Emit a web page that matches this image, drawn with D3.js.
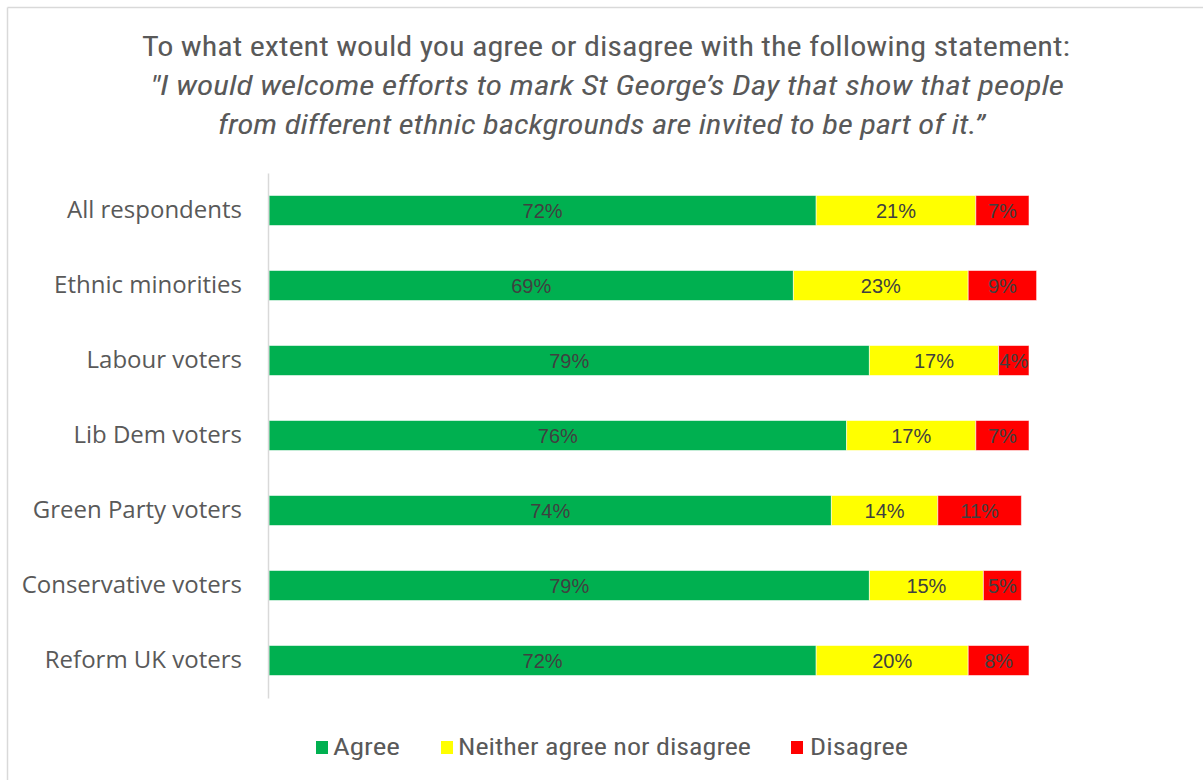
<!DOCTYPE html>
<html>
<head>
<meta charset="utf-8">
<script src="https://cdn.jsdelivr.net/npm/d3@7"></script>
<style>
  html, body { margin: 0; padding: 0; background: #fff; }
  svg { display: block; }
</style>
</head>
<body>
<svg id="chart" width="1203" height="780"></svg>
<script>
// Survey groups, top to bottom
const categories = [
  "All respondents",
  "Ethnic minorities",
  "Labour voters",
  "Lib Dem voters",
  "Green Party voters",
  "Conservative voters",
  "Reform UK voters"
];
// Response shares (%)
const agree    = [72, 69, 79, 76, 74, 79, 72];
const neither  = [21, 23, 17, 17, 14, 15, 20];
const disagree = [7, 9, 4, 7, 11, 5, 8];

const seriesNames = ["Agree", "Neither agree nor disagree", "Disagree"];
const seriesColors = ["#00B050", "#FFFF00", "#FF0000"];

const titleLines = [
  "To what extent would you agree or disagree with the following statement:",
  "\"I would welcome efforts to mark St George\u2019s Day that show that people",
  "from different ethnic backgrounds are invited to be part of it.\u201D"
];

const svg = d3.select("#chart");
const narrow = "'Liberation Sans Narrow', 'Arial Narrow', 'Roboto Condensed', 'Liberation Sans', sans-serif";
const textColor = "#595959";

// outer frame (top and left edges)
svg.append("line").attr("x1", 7.5).attr("x2", 1203).attr("y1", 7.5).attr("y2", 7.5)
  .attr("stroke", "#d9d9d9").attr("stroke-width", 1.5);
svg.append("line").attr("x1", 7.5).attr("x2", 7.5).attr("y1", 7.5).attr("y2", 780)
  .attr("stroke", "#d9d9d9").attr("stroke-width", 1.5);

// title
const titleSpecs = [
  { y: 56, x0: 142, x1: 1070, italic: false },
  { y: 95, x0: 150, x1: 1064, italic: true },
  { y: 134, x0: 218, x1: 985, italic: true }
];
titleLines.forEach((t, i) => {
  const s = titleSpecs[i];
  svg.append("text")
    .attr("x", s.x0).attr("y", s.y)
    .attr("textLength", s.x1 - s.x0)
    .attr("lengthAdjust", "spacingAndGlyphs")
    .attr("font-family", narrow)
    .attr("font-size", 27)
    .attr("font-style", s.italic ? "italic" : "normal")
    .attr("fill", textColor)
    .text(t);
});

// scales
const x = d3.scaleLinear().domain([0, 100]).range([269, 1029]);
const y = d3.scaleBand().domain(categories).range([173, 698]).paddingInner(0.6).paddingOuter(0.3);

const rows = categories.map((c, i) => ({ cat: c, Agree: agree[i], "Neither agree nor disagree": neither[i], Disagree: disagree[i] }));
const stacked = d3.stack().keys(seriesNames)(rows);

// bars
const g = svg.append("g");
stacked.forEach((layer, li) => {
  const lg = g.append("g");
  lg.selectAll("rect").data(layer).join("rect")
    .attr("x", d => x(d[0]))
    .attr("y", d => y(d.data.cat))
    .attr("width", d => x(d[1]) - x(d[0]))
    .attr("height", y.bandwidth())
    .attr("fill", seriesColors[li])
    .attr("stroke", "rgba(255,255,255,0.55)")
    .attr("stroke-width", 1);
  lg.selectAll("text").data(layer).join("text")
    .attr("x", d => (x(d[0]) + x(d[1])) / 2)
    .attr("y", d => y(d.data.cat) + y.bandwidth() / 2)
    .attr("dy", "0.36em")
    .attr("text-anchor", "middle")
    .attr("font-family", "'Liberation Sans', Arial, sans-serif")
    .attr("font-size", 20)
    .attr("fill", "#404040")
    .text(d => (d[1] - d[0]) + "%");
});

// category axis
const yAxis = svg.append("g").attr("transform", "translate(268,0)")
  .call(d3.axisLeft(y).tickSize(0).tickPadding(26));
yAxis.select(".domain").attr("stroke", "#d9d9d9").attr("stroke-width", 1.5);
yAxis.selectAll("text")
  .attr("font-family", "'Open Sans', 'Liberation Sans', sans-serif")
  .attr("font-size", 24)
  .attr("fill", textColor);

// legend
const legendItems = [
  { name: seriesNames[0], color: seriesColors[0], sx: 316, tx: 333, tw: 67 },
  { name: seriesNames[1], color: seriesColors[1], sx: 441, tx: 458, tw: 293 },
  { name: seriesNames[2], color: seriesColors[2], sx: 791, tx: 810, tw: 98 }
];
const lg = svg.append("g");
legendItems.forEach(it => {
  lg.append("rect").attr("x", it.sx).attr("y", 741).attr("width", 12).attr("height", 13)
    .attr("fill", it.color);
  lg.append("text").attr("x", it.tx).attr("y", 755)
    .attr("textLength", it.tw).attr("lengthAdjust", "spacingAndGlyphs")
    .attr("font-family", narrow).attr("font-size", 23)
    .attr("fill", textColor).text(it.name);
});
</script>
</body>
</html>
